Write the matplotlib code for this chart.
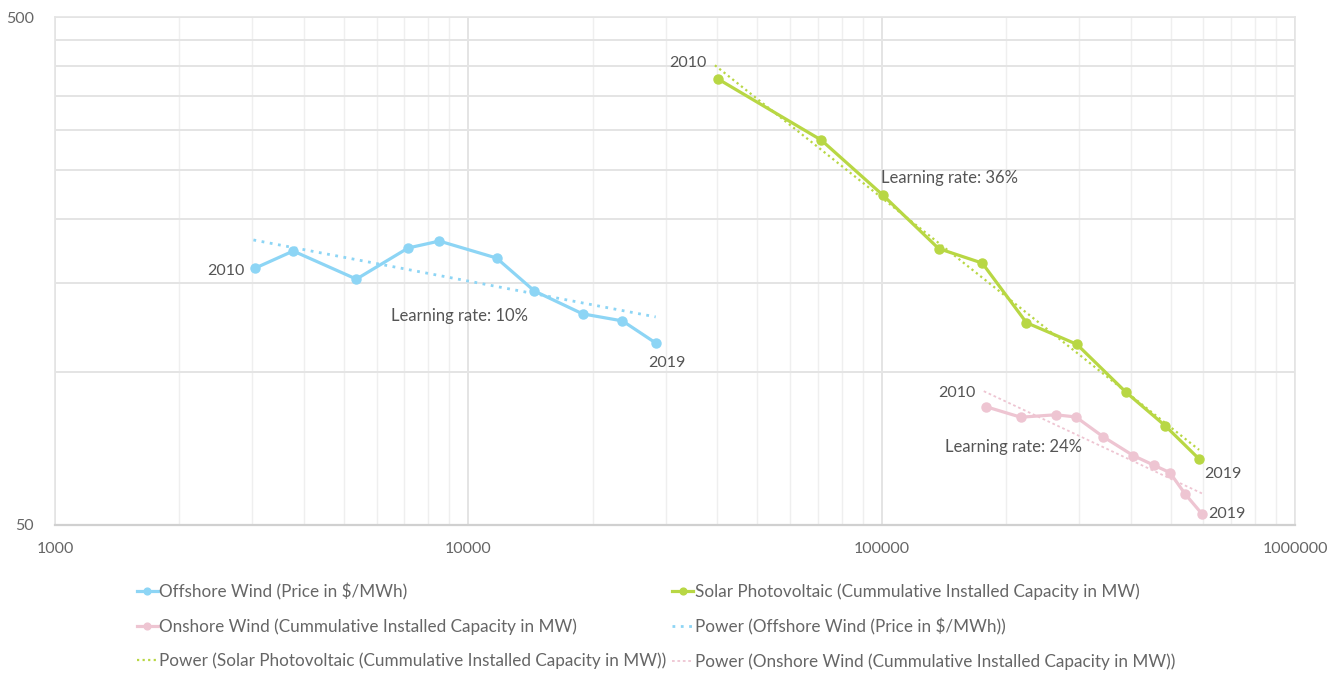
import numpy as np
import matplotlib
matplotlib.use("Agg")
import matplotlib.pyplot as plt
from matplotlib import ticker

plt.rcParams['font.family'] = ['Lato', 'DejaVu Sans']

# Offshore wind
offshore_x = [3050, 3770, 5360, 7150, 8510, 11700, 14450, 18900, 23600, 28400]
offshore_y = [160.2, 173.1, 152.4, 175.5, 181.1, 167.7, 144.4, 130.2, 126.1, 114.1]
offshore_trend_x = [3020, 28400]
offshore_trend_y = [182.0, 128.4]

# Solar photovoltaic
solar_x = [40100, 71400, 100800, 137400, 175100, 224000, 296700, 390400, 485300, 586600]
solar_y = [377.9, 286.3, 222.8, 175.0, 163.9, 125.1, 113.4, 91.2, 78.4, 67.4]
solar_trend_x = [39500, 586000]
solar_trend_y = [401.7, 70.3]

# Onshore wind
onshore_x = [178600, 217000, 263400, 295000, 343400, 406000, 454900, 498200, 542600, 595400]
onshore_y = [85.5, 81.5, 82.4, 81.6, 74.6, 68.5, 65.6, 63.4, 57.5, 52.6]
onshore_trend_x = [176600, 595400]
onshore_trend_y = [91.7, 57.7]

labels = ["Offshore Wind (Price in $/MWh)",
          "Solar Photovoltaic (Cummulative Installed Capacity in MW)",
          "Onshore Wind (Cummulative Installed Capacity in MW)",
          "Power (Offshore Wind (Price in $/MWh))",
          "Power (Solar Photovoltaic (Cummulative Installed Capacity in MW))",
          "Power (Onshore Wind (Cummulative Installed Capacity in MW))"]

blue = "#8dd5f5"
green = "#b8d744"
pink = "#eec5d2"
textc = "#555555"

fig = plt.figure(figsize=(13.44, 6.79), dpi=100)
ax = fig.add_axes([55/1344, 1-525/679, 1240/1344, 508/679])

h1, = ax.plot(offshore_x, offshore_y, color=blue, lw=2.3, marker="o", markersize=6.5)
h2, = ax.plot(solar_x, solar_y, color=green, lw=2.3, marker="o", markersize=6.5)
h3, = ax.plot(onshore_x, onshore_y, color=pink, lw=2.3, marker="o", markersize=6.5)
h4, = ax.plot(offshore_trend_x, offshore_trend_y, color=blue, lw=2.0, linestyle=(0, (1, 2)))
h5, = ax.plot(solar_trend_x, solar_trend_y, color=green, lw=1.6, linestyle=(0, (1, 1.5)))
h6, = ax.plot(onshore_trend_x, onshore_trend_y, color=pink, lw=1.3, linestyle=(0, (1.5, 1.5)))

ax.set_xscale("log")
ax.set_yscale("log")
ax.set_xlim(1000, 1000000)
ax.set_ylim(50, 500)

ax.yaxis.set_major_locator(ticker.FixedLocator([50, 500]))
ax.yaxis.set_minor_locator(ticker.FixedLocator(list(range(100, 500, 50))))
ax.yaxis.set_major_formatter(ticker.FormatStrFormatter("%d"))
ax.yaxis.set_minor_formatter(ticker.NullFormatter())
ax.xaxis.set_major_locator(ticker.FixedLocator([1000, 10000, 100000, 1000000]))
ax.xaxis.set_major_formatter(ticker.FormatStrFormatter("%d"))
ax.xaxis.set_minor_locator(ticker.LogLocator(base=10, subs=np.arange(2, 10)))
ax.xaxis.set_minor_formatter(ticker.NullFormatter())

ax.grid(True, axis="y", which="both", color="#e4e4e4", lw=1.4)
ax.grid(True, axis="x", which="major", color="#dcdcdc", lw=1.1)
ax.grid(True, axis="x", which="minor", color="#efefef", lw=1.0)
ax.set_axisbelow(True)
ax.tick_params(axis="both", which="both", length=0, labelsize=11.5, labelcolor="#666666")
ax.tick_params(axis="y", pad=15)
ax.tick_params(axis="x", pad=12)
for s in ["left", "top", "right"]:
    ax.spines[s].set_color("#e4e4e4")
    ax.spines[s].set_linewidth(1.2)
ax.spines["bottom"].set_color("#d0d0d0")
ax.spines["bottom"].set_linewidth(1.6)

def note(txt, x, y, dx, dy, ha, va):
    ax.annotate(txt, (x, y), xytext=(dx, dy), textcoords="offset pixels",
                ha=ha, va=va, fontsize=11.5, color=textc)

note("2010", offshore_x[0], offshore_y[0], -11, -3, "right", "center")
note("2019", offshore_x[-1], offshore_y[-1], -8, -13, "left", "top")
note("2010", solar_x[0], solar_y[0], -11, 16, "right", "center")
note("2019", solar_x[-1], solar_y[-1], 5, -15, "left", "center")
note("2010", onshore_x[0], onshore_y[0], -10, 14, "right", "center")
note("2019", onshore_x[-1], onshore_y[-1], 6, 0, "left", "center")

ax.text(0.326, 0.411, "Learning rate: 10%", transform=ax.transAxes, ha="center", va="center", fontsize=12, color=textc)
ax.text(0.666, 0.683, "Learning rate: 36%", transform=ax.transAxes, ha="left", va="center", fontsize=12, color=textc)
ax.text(0.773, 0.154, "Learning rate: 24%", transform=ax.transAxes, ha="center", va="center", fontsize=12, color=textc)

handles = [h1, h3, h5, h2, h4, h6]
order = [labels[0], labels[2], labels[4], labels[1], labels[3], labels[5]]
leg = fig.legend(handles, order, loc="upper left", bbox_to_anchor=(137/1344, 1-583/679),
                 ncol=2, frameon=False, fontsize=12.3, handlelength=1.2, handletextpad=0.1,
                 columnspacing=0.35, labelspacing=1.05, borderpad=0, borderaxespad=0,
                 markerscale=0.75)
for t in leg.get_texts():
    t.set_color("#666666")

fig.savefig("out.png", dpi=100)
